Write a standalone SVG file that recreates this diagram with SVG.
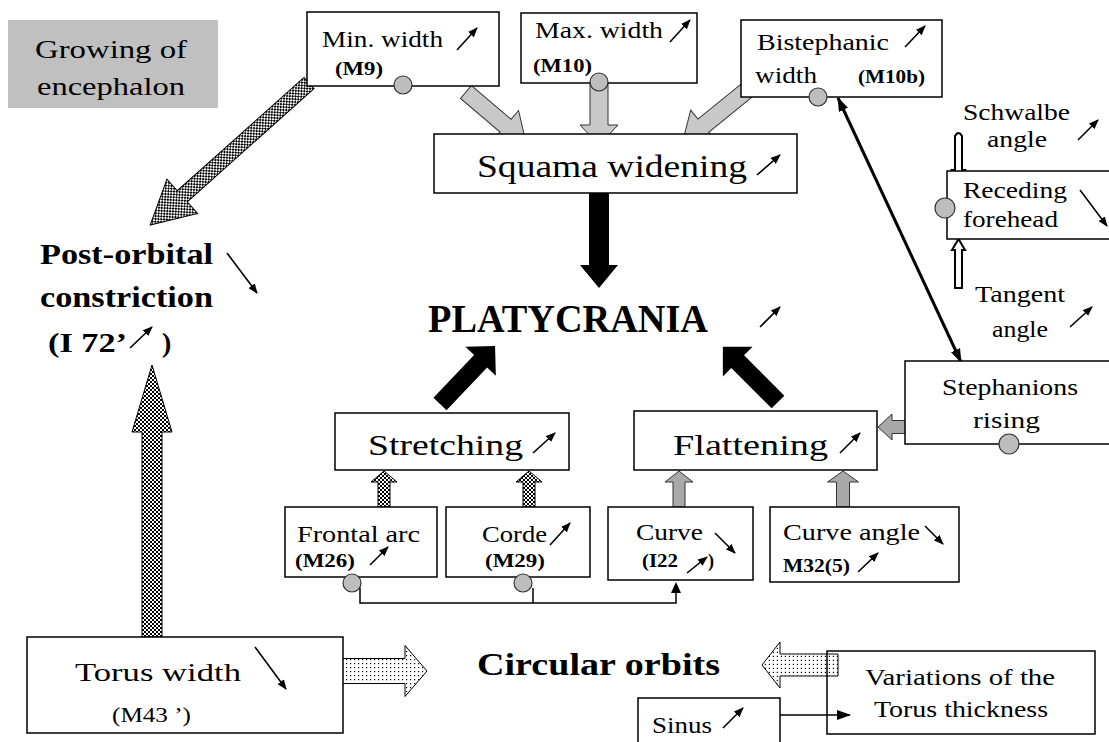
<svg xmlns="http://www.w3.org/2000/svg" width="1109" height="742" viewBox="0 0 1109 742">
<style>
text{font-family:"Liberation Serif","Times New Roman",serif;fill:#000}
.b{font-weight:bold}
.box{fill:#fff;stroke:#000;stroke-width:1.5}
.dot{fill:#bdbdbd;stroke:#333;stroke-width:1.2}
.sm{fill:none;stroke:#000;stroke-width:1.6;marker-end:url(#ah)}
.ln{fill:none;stroke:#000;stroke-width:1.5}
.lg{fill:#c8c8c8;stroke:#333;stroke-width:1}
.mg{fill:#a9a9a9;stroke:#333;stroke-width:1}
.ck{fill:url(#checker);stroke:#000;stroke-width:1}
.dt{fill:url(#dots);stroke:#000;stroke-width:1}
.bk{fill:#000}
.hol{fill:#fff;stroke:#000;stroke-width:2}
</style>
<defs>
<pattern id="checker" width="4" height="4" patternUnits="userSpaceOnUse">
<rect width="4" height="4" fill="#fff"/><rect width="2" height="2" fill="#000"/><rect x="2" y="2" width="2" height="2" fill="#000"/>
</pattern>
<pattern id="dots" width="4" height="4" patternUnits="userSpaceOnUse">
<rect width="4" height="4" fill="#fff"/><rect width="1.2" height="1.2" fill="#000"/>
</pattern>
<marker id="ah" viewBox="0 0 10 8" refX="9" refY="4" markerWidth="10" markerHeight="8" markerUnits="userSpaceOnUse" orient="auto">
<path d="M0,0 L10,4 L0,8 Z" fill="#000"/>
</marker>
<marker id="ahb" viewBox="0 0 14 10" refX="13" refY="5" markerWidth="14" markerHeight="10" markerUnits="userSpaceOnUse" orient="auto-start-reverse">
<path d="M0,0 L14,5 L0,10 Z" fill="#000"/>
</marker>
</defs>

<g id="growing">
<rect x="8" y="20" width="210" height="88" fill="#c0c0c0"/>
<text x="35" y="58" font-size="26" textLength="152" lengthAdjust="spacingAndGlyphs">Growing of</text>
<text x="37" y="95" font-size="26" textLength="148" lengthAdjust="spacingAndGlyphs">encephalon</text>
</g>

<g id="connectors">
<!-- checkered Min width -> Post-orbital -->
<path class="ck" transform="translate(309,83) rotate(138.2)" d="M0,-7.5 H170 V-23 L213,0 L170,23 V7.5 H0 Z"/>
<!-- checkered Torus -> Post-orbital -->
<path class="ck" transform="translate(152,637) rotate(-90)" d="M0,-10 H205 V-20 L272,0 L205,20 V10 H0 Z"/>
<!-- dotted Torus -> Circular -->
<path class="dt" transform="translate(330,671)" d="M0,-12.5 H75 V-25.5 L97,0 L75,25.5 V12.5 H0 Z"/>
<!-- dotted Variations -> Circular -->
<path class="dt" transform="translate(838,665) rotate(180)" d="M0,-11 H58 V-23 L76,0 L58,23 V11 H0 Z"/>
<!-- light gray to Squama -->
<path class="lg" transform="translate(466,92) rotate(40.4)" d="M0,-8.5 H52 V-20 L79,0 L52,20 V8.5 H0 Z"/>
<path class="lg" transform="translate(599,82) rotate(90)" d="M0,-9 H43 V-19 L63,0 L43,19 V9 H0 Z"/>
<path class="lg" transform="translate(746,91) rotate(140.9)" d="M0,-8.5 H55 V-20 L82,0 L55,20 V8.5 H0 Z"/>
<!-- Stephanions -> Flattening -->
<path class="mg" transform="translate(915,427) rotate(180)" d="M0,-6.5 H23 V-13 L37,0 L23,13 V6.5 H0 Z"/>
<!-- small checkered to Stretching -->
<path class="ck" transform="translate(384,507) rotate(-90)" d="M0,-6 H25 V-13 L36,0 L25,13 V6 H0 Z"/>
<path class="ck" transform="translate(529,507) rotate(-90)" d="M0,-6 H25 V-13 L36,0 L25,13 V6 H0 Z"/>
<!-- mottled to Flattening -->
<path class="mg" transform="translate(679,507) rotate(-90)" d="M0,-6 H25 V-14 L36,0 L25,14 V6 H0 Z"/>
<path class="mg" transform="translate(843,507) rotate(-90)" d="M0,-6.5 H25 V-15.5 L36,0 L25,15.5 V6.5 H0 Z"/>
<!-- black arrows to PLATYCRANIA -->
<path class="bk" transform="translate(599,193) rotate(90)" d="M0,-10 H72 V-19 L95,0 L72,19 V10 H0 Z"/>
<path class="bk" transform="translate(440,404) rotate(-46.5)" d="M0,-9 H59 V-21 L80,0 L59,21 V9 H0 Z"/>
<path class="bk" transform="translate(778,402) rotate(-135)" d="M0,-9 H57 V-21 L78,0 L57,21 V9 H0 Z"/>
<!-- hollow narrow arrows to Receding forehead -->
<path class="hol" d="M955,136 Q958.5,130 962,136 V170 H965 L958.5,181 L952,170 H955 Z"/>
<path class="hol" d="M955,288 V250 H952 L958.5,239 L965,250 H962 V288 Z"/>
<!-- Bistephanic <-> Stephanions -->
<line x1="838" y1="98" x2="961" y2="362" stroke="#000" stroke-width="3" marker-start="url(#ahb)" marker-end="url(#ahb)"/>
<!-- bottom connector from M26/M29 to Curve -->
<polyline class="ln" points="360,588 360,603 676,603 676,592"/>
<line x1="533" y1="588" x2="533" y2="603" class="ln"/>
<path d="M671,593 L676,582 L681,593 Z" fill="#000"/>
<!-- Sinus -> Variations -->
<line x1="763" y1="715" x2="850" y2="715" stroke="#000" stroke-width="1.6" marker-end="url(#ahb)"/>
</g>

<g id="min-width">
<rect class="box" x="307" y="12" width="192" height="74"/>
<text x="322" y="47" font-size="24" textLength="121" lengthAdjust="spacingAndGlyphs">Min. width</text>
<line class="sm" x1="457" y1="50" x2="477" y2="28"/>
<text class="b" x="335" y="75" font-size="18" textLength="48" lengthAdjust="spacingAndGlyphs">(M9)</text>
<circle class="dot" cx="403" cy="85" r="9"/>
</g>

<g id="max-width">
<rect class="box" x="521" y="13" width="176" height="70"/>
<text x="535" y="38" font-size="24" textLength="128" lengthAdjust="spacingAndGlyphs">Max. width</text>
<line class="sm" x1="670" y1="42" x2="690" y2="20"/>
<text class="b" x="533" y="72" font-size="18" textLength="59" lengthAdjust="spacingAndGlyphs">(M10)</text>
<circle class="dot" cx="599" cy="82" r="9"/>
</g>

<g id="bistephanic">
<rect class="box" x="741" y="20" width="201" height="77"/>
<text x="757" y="50" font-size="24" textLength="132" lengthAdjust="spacingAndGlyphs">Bistephanic</text>
<line class="sm" x1="905" y1="47" x2="925" y2="26"/>
<text x="755" y="83" font-size="24" textLength="62" lengthAdjust="spacingAndGlyphs">width</text>
<text class="b" x="858" y="83" font-size="18" textLength="67" lengthAdjust="spacingAndGlyphs">(M10b)</text>
<circle class="dot" cx="818" cy="97" r="9"/>
</g>

<g id="squama">
<rect class="box" x="434" y="134" width="363" height="59"/>
<text x="477" y="177" font-size="32" textLength="270" lengthAdjust="spacingAndGlyphs">Squama widening</text>
<line class="sm" x1="757" y1="175" x2="780" y2="155"/>
</g>

<g id="platycrania">
<text class="b" x="428" y="332" font-size="40" textLength="280" lengthAdjust="spacingAndGlyphs">PLATYCRANIA</text>
<line class="sm" x1="760" y1="327" x2="780" y2="307"/>
</g>

<g id="schwalbe">
<text x="963" y="120" font-size="24" textLength="107" lengthAdjust="spacingAndGlyphs">Schwalbe</text>
<text x="987" y="147" font-size="24" textLength="60" lengthAdjust="spacingAndGlyphs">angle</text>
<line class="sm" x1="1078" y1="140" x2="1098" y2="120"/>
</g>

<g id="receding">
<rect class="box" x="947" y="171" width="170" height="68"/>
<text x="963" y="198" font-size="24" textLength="104" lengthAdjust="spacingAndGlyphs">Receding</text>
<text x="963" y="227" font-size="24" textLength="95" lengthAdjust="spacingAndGlyphs">forehead</text>
<line class="sm" x1="1080" y1="190" x2="1107" y2="226"/>
<circle class="dot" cx="945" cy="208" r="10"/>
</g>

<g id="tangent">
<text x="975" y="302" font-size="24" textLength="90" lengthAdjust="spacingAndGlyphs">Tangent</text>
<text x="992" y="337" font-size="24" textLength="56" lengthAdjust="spacingAndGlyphs">angle</text>
<line class="sm" x1="1070" y1="327" x2="1092" y2="307"/>
</g>

<g id="post-orbital">
<text class="b" x="40" y="264" font-size="30" textLength="173" lengthAdjust="spacingAndGlyphs">Post-orbital</text>
<text class="b" x="40" y="307" font-size="30" textLength="173" lengthAdjust="spacingAndGlyphs">constriction</text>
<text class="b" x="48" y="352" font-size="28" textLength="79" lengthAdjust="spacingAndGlyphs">(I 72’</text>
<line class="sm" x1="130" y1="348" x2="152" y2="327"/>
<text class="b" x="162" y="352" font-size="28">)</text>
<line class="sm" x1="227" y1="253" x2="257" y2="293"/>
</g>

<g id="stretching">
<rect class="box" x="335" y="413" width="234" height="57"/>
<text x="368" y="455" font-size="30" textLength="155" lengthAdjust="spacingAndGlyphs">Stretching</text>
<line class="sm" x1="533" y1="453" x2="555" y2="433"/>
</g>

<g id="flattening">
<rect class="box" x="634" y="411" width="243" height="59"/>
<text x="673" y="455" font-size="30" textLength="155" lengthAdjust="spacingAndGlyphs">Flattening</text>
<line class="sm" x1="840" y1="453" x2="860" y2="433"/>
</g>

<g id="stephanions">
<rect class="box" x="905" y="361" width="212" height="83"/>
<text x="942" y="395" font-size="24" textLength="136" lengthAdjust="spacingAndGlyphs">Stephanions</text>
<text x="973" y="428" font-size="24" textLength="67" lengthAdjust="spacingAndGlyphs">rising</text>
<circle class="dot" cx="1009" cy="444" r="10"/>
</g>

<g id="frontal-arc">
<rect class="box" x="285" y="507" width="152" height="70"/>
<text x="297" y="542" font-size="23" textLength="123" lengthAdjust="spacingAndGlyphs">Frontal arc</text>
<text class="b" x="295" y="567" font-size="18" textLength="60" lengthAdjust="spacingAndGlyphs">(M26)</text>
<line class="sm" x1="370" y1="565" x2="388" y2="547"/>
<circle class="dot" cx="352" cy="583" r="9"/>
</g>

<g id="corde">
<rect class="box" x="446" y="507" width="144" height="70"/>
<text x="482" y="542" font-size="23" textLength="65" lengthAdjust="spacingAndGlyphs">Corde</text>
<line class="sm" x1="550" y1="545" x2="570" y2="523"/>
<text class="b" x="485" y="567" font-size="18" textLength="60" lengthAdjust="spacingAndGlyphs">(M29)</text>
<circle class="dot" cx="523" cy="583" r="9"/>
</g>

<g id="curve">
<rect class="box" x="608" y="507" width="145" height="73"/>
<text x="636" y="540" font-size="23" textLength="67" lengthAdjust="spacingAndGlyphs">Curve</text>
<line class="sm" x1="715" y1="533" x2="735" y2="553"/>
<text class="b" x="642" y="567" font-size="18" textLength="36" lengthAdjust="spacingAndGlyphs">(I22</text>
<line class="sm" x1="687" y1="573" x2="707" y2="557"/>
<text class="b" x="708" y="567" font-size="18">)</text>
</g>

<g id="curve-angle">
<rect class="box" x="770" y="507" width="189" height="75"/>
<text x="783" y="540" font-size="23" textLength="137" lengthAdjust="spacingAndGlyphs">Curve angle</text>
<line class="sm" x1="925" y1="526" x2="943" y2="544"/>
<text class="b" x="783" y="572" font-size="18" textLength="67" lengthAdjust="spacingAndGlyphs">M32(5)</text>
<line class="sm" x1="858" y1="572" x2="878" y2="553"/>
</g>

<g id="torus-width">
<rect class="box" x="27" y="637" width="316" height="96"/>
<text x="75" y="681" font-size="26" textLength="166" lengthAdjust="spacingAndGlyphs">Torus width</text>
<line class="sm" x1="255" y1="647" x2="286" y2="689"/>
<text x="112" y="722" font-size="20" textLength="79" lengthAdjust="spacingAndGlyphs">(M43 ’)</text>
</g>

<g id="circular-orbits">
<text class="b" x="477" y="675" font-size="32" textLength="243" lengthAdjust="spacingAndGlyphs">Circular orbits</text>
</g>

<g id="sinus">
<rect class="box" x="638" y="698" width="142" height="60"/>
<text x="652" y="733" font-size="24" textLength="60" lengthAdjust="spacingAndGlyphs">Sinus</text>
<line class="sm" x1="723" y1="728" x2="743" y2="708"/>
</g>

<g id="variations">
<rect class="box" x="827" y="651" width="268" height="83" fill-opacity="0"/>
<text x="865" y="685" font-size="24" textLength="190" lengthAdjust="spacingAndGlyphs">Variations of the</text>
<text x="874" y="717" font-size="24" textLength="174" lengthAdjust="spacingAndGlyphs">Torus thickness</text>
</g>
</svg>
